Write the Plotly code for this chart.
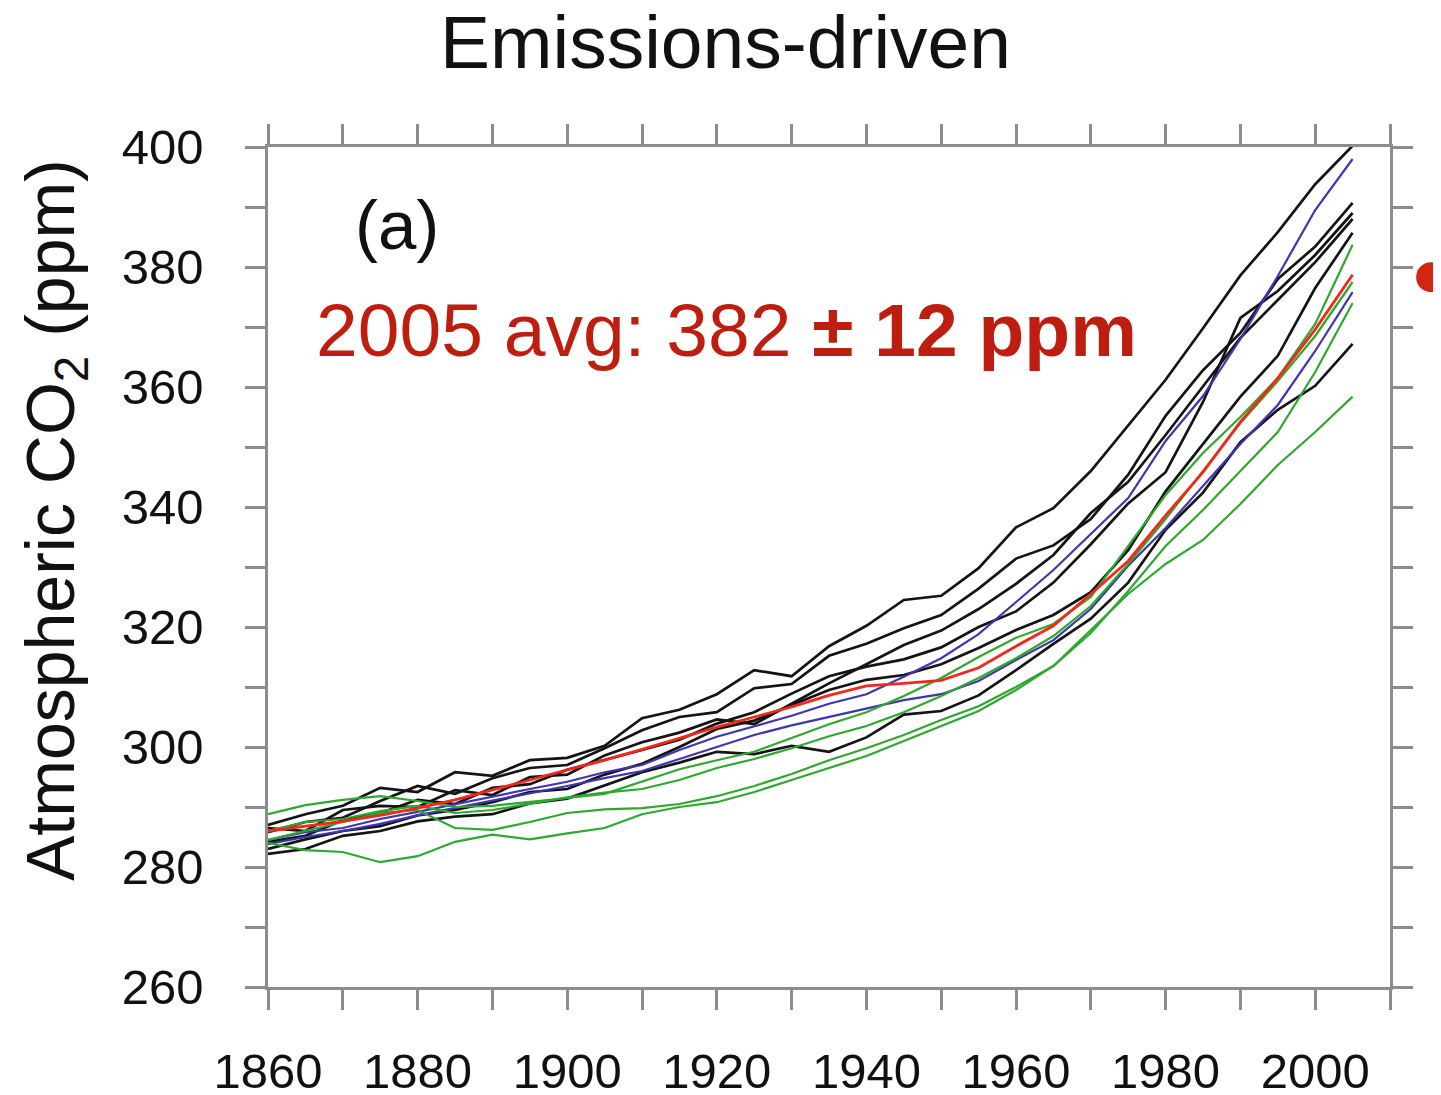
import plotly.graph_objects as go

years = list(range(1860, 2010, 5))

obs_red = [286.0, 286.8, 287.6, 288.6, 289.8, 291.2, 292.8, 294.5, 296.2, 297.8,
           299.6, 301.5, 303.3, 305.0, 306.7, 308.6, 310.2, 310.6, 311.1, 313.2,
           316.8, 320.2, 325.5, 331.0, 338.6, 345.8, 354.2, 361.5, 369.6, 378.7]

black_1 = [287.0, 288.8, 290.2, 293.2, 292.5, 295.8, 295.2, 297.8, 298.2, 300.2,
           304.8, 306.2, 308.8, 312.8, 311.8, 316.8, 320.2, 324.5, 325.2, 329.8,
           336.6, 339.8, 346.0, 353.6, 361.2, 369.8, 378.6, 385.8, 393.8, 400.2]
black_2 = [285.8, 287.5, 288.2, 291.0, 293.5, 292.2, 294.8, 296.5, 297.0, 299.8,
           302.8, 305.0, 305.8, 309.8, 310.5, 315.2, 317.2, 319.8, 322.0, 326.4,
           331.4, 333.6, 338.0, 345.4, 355.2, 362.8, 369.0, 378.0, 383.4, 390.7]
black_3 = [284.2, 285.2, 287.8, 289.0, 291.2, 290.5, 293.2, 293.8, 296.2, 297.8,
           299.5, 301.2, 303.9, 305.8, 308.9, 311.8, 313.4, 314.6, 316.6, 320.0,
           322.6, 327.4, 333.8, 340.6, 345.8, 357.5, 371.5, 376.0, 382.0, 389.0]
black_4 = [283.0, 284.6, 286.0, 286.8, 288.6, 289.5, 290.8, 292.5, 293.0, 295.4,
           297.2, 300.0, 303.0, 304.4, 307.0, 309.5, 311.2, 312.0, 313.8, 316.5,
           319.5, 322.0, 325.8, 332.8, 342.6, 350.4, 358.4, 365.2, 376.5, 385.7]
black_5 = [282.2, 283.0, 285.2, 286.0, 287.6, 288.4, 288.8, 290.6, 291.4, 293.6,
           295.8, 297.4, 299.2, 298.8, 300.2, 299.2, 301.6, 305.4, 306.0, 308.6,
           312.8, 317.2, 321.4, 327.4, 336.2, 342.4, 350.8, 356.2, 360.2, 367.2]
black_6 = [286.5, 286.0, 289.5, 290.2, 290.0, 292.8, 292.0, 295.0, 295.4, 298.6,
           300.8, 302.4, 304.6, 303.8, 307.2, 310.6, 313.8, 317.0, 319.4, 323.0,
           327.2, 332.0, 339.0, 344.2, 352.0, 360.0, 368.2, 374.5, 380.8, 388.0]

blue_1 = [284.5, 285.8, 286.5, 288.0, 289.2, 290.5, 291.8, 293.0, 294.2, 295.8,
          297.0, 299.5, 301.7, 303.5, 305.2, 307.2, 308.8, 311.7, 314.8, 318.8,
          324.2, 329.5, 335.5, 341.5, 351.0, 358.5, 368.0, 378.5, 389.5, 398.0]
blue_2 = [283.8, 285.0, 286.0, 287.2, 288.6, 289.8, 291.0, 292.3, 293.5, 294.8,
          296.0, 298.0, 300.0, 302.0, 303.6, 305.0, 306.4, 307.8, 308.8, 311.0,
          314.5, 317.8, 323.0, 330.2, 336.5, 343.5, 350.5, 357.0, 366.0, 375.8]

green_1 = [288.8, 290.3, 291.2, 291.8, 291.0, 290.0, 290.2, 290.8, 291.5, 292.2,
           294.2, 296.3, 297.8, 299.2, 301.5, 303.8, 305.8, 308.5, 311.5, 315.0,
           318.2, 320.5, 325.0, 333.5, 342.0, 349.0, 355.0, 361.5, 370.5, 383.7]
green_2 = [286.0, 287.5, 288.0, 289.3, 290.2, 289.0, 289.5, 290.5, 291.6, 292.4,
           293.0, 294.5, 296.5, 298.0, 299.8, 301.8, 303.5, 305.8, 308.5, 311.5,
           314.8, 318.5, 323.5, 330.5, 338.0, 346.0, 354.0, 361.0, 368.5, 377.5]
green_3 = [284.5, 286.0, 287.5, 289.0, 289.5, 286.5, 286.2, 287.5, 289.0, 289.6,
           289.8, 290.5, 291.8, 293.5, 295.5, 297.8, 299.8, 302.0, 304.5, 306.8,
           310.0, 313.5, 319.0, 326.0, 333.5, 339.5, 346.0, 352.5, 362.5, 374.0]
green_4 = [284.0, 282.8, 282.5, 280.8, 281.8, 284.2, 285.4, 284.6, 285.6, 286.5,
           288.8, 290.0, 290.8, 292.5, 294.5, 296.5, 298.5, 301.0, 303.5, 306.0,
           309.5, 313.5, 319.5, 325.5, 330.5, 334.5, 340.5, 347.0, 352.5, 358.4]

dot_year = [2015.5]
dot_ppm = [378.3]

x_range = [1860, 2010]
y_range = [260, 400]
x_tick_vals = list(range(1860, 2011, 10))
x_tick_text = ["1860", "", "1880", "", "1900", "", "1920", "", "1940", "",
               "1960", "", "1980", "", "2000", ""]
y_tick_vals = list(range(260, 401, 10))
y_tick_text = ["260", "", "280", "", "300", "", "320", "", "340", "",
               "360", "", "380", "", "400"]

FONT = "Liberation Sans, Arial, sans-serif"
BLACK = "#141414"
BLUE = "#4035b0"
GREEN = "#2ea82e"
RED = "#f3281c"
DARKRED = "#be1e10"
AXIS = "#8c8c8c"

# page offset compensation (browser body margin ~8px)
L, T, R, B = 260, 139, 59, 116
PW = 1441 - L - R
PH = 1095 - T - B

fig = go.Figure()
for s in [black_1, black_2, black_3, black_4, black_5, black_6]:
    fig.add_trace(go.Scatter(x=years, y=s, mode="lines",
                             line=dict(color=BLACK, width=2.7), showlegend=False))
for s in [blue_1, blue_2]:
    fig.add_trace(go.Scatter(x=years, y=s, mode="lines",
                             line=dict(color=BLUE, width=2.2), showlegend=False))
for s in [green_1, green_2, green_3, green_4]:
    fig.add_trace(go.Scatter(x=years, y=s, mode="lines",
                             line=dict(color=GREEN, width=2.2), showlegend=False))
fig.add_trace(go.Scatter(x=years, y=obs_red, mode="lines",
                         line=dict(color=RED, width=2.8), showlegend=False))

# observed 2005 value marker, placed outside the plot area (paper coords from data)
dot_px = (dot_year[0] - x_range[0]) / (x_range[1] - x_range[0])
dot_py = (dot_ppm[0] - y_range[0]) / (y_range[1] - y_range[0])
fig.add_shape(type="circle", xref="paper", yref="paper",
              xsizemode="pixel", ysizemode="pixel",
              xanchor=dot_px, yanchor=dot_py, x0=-15, x1=15, y0=-15, y1=15,
              fillcolor="#d42414", line=dict(width=0))

axis_common = dict(showline=True, linecolor=AXIS, linewidth=2.5, mirror="ticks",
                   ticks="outside", ticklen=20, tickwidth=2.5, tickcolor=AXIS,
                   showgrid=False, zeroline=False, automargin=False,
                   tickfont=dict(family=FONT, size=49, color="#111111"))

fig.update_layout(
    width=1441, height=1095, autosize=False,
    margin=dict(l=L, r=R, t=T, b=B),
    paper_bgcolor="white", plot_bgcolor="white",
    font=dict(family=FONT, color="#111111"),
    xaxis=dict(range=x_range, tickvals=x_tick_vals, ticktext=x_tick_text,
               ticklabelstandoff=19, **axis_common),
    yaxis=dict(range=y_range, tickvals=y_tick_vals, ticktext=y_tick_text,
               ticklabelstandoff=32, **axis_common),
    annotations=[
        dict(text="Emissions-driven", xref="paper", yref="paper",
             x=(725 - 268) / PW, y=1 + 105 / PH, xanchor="center", yanchor="middle",
             showarrow=False, font=dict(family=FONT, size=75, color="#111111")),
        dict(text="Atmospheric CO<sub>2</sub> (ppm)", xref="paper", yref="paper",
             x=(55 - 268) / PW, y=(987 - 520) / PH, xanchor="center", yanchor="middle",
             textangle=-90, showarrow=False,
             font=dict(family=FONT, size=68, color="#111111")),
        dict(text="(a)", xref="x", yref="y", x=1871.3, y=387.0,
             xanchor="left", yanchor="middle", showarrow=False,
             font=dict(family=FONT, size=69, color="#111111")),
        dict(text="2005 avg: 382 <b>± 12 ppm</b>", xref="x", yref="y", x=1866.2, y=369.5,
             xanchor="left", yanchor="middle", showarrow=False,
             font=dict(family=FONT, size=75, color=DARKRED)),
    ],
)

fig.write_html("out.html")
